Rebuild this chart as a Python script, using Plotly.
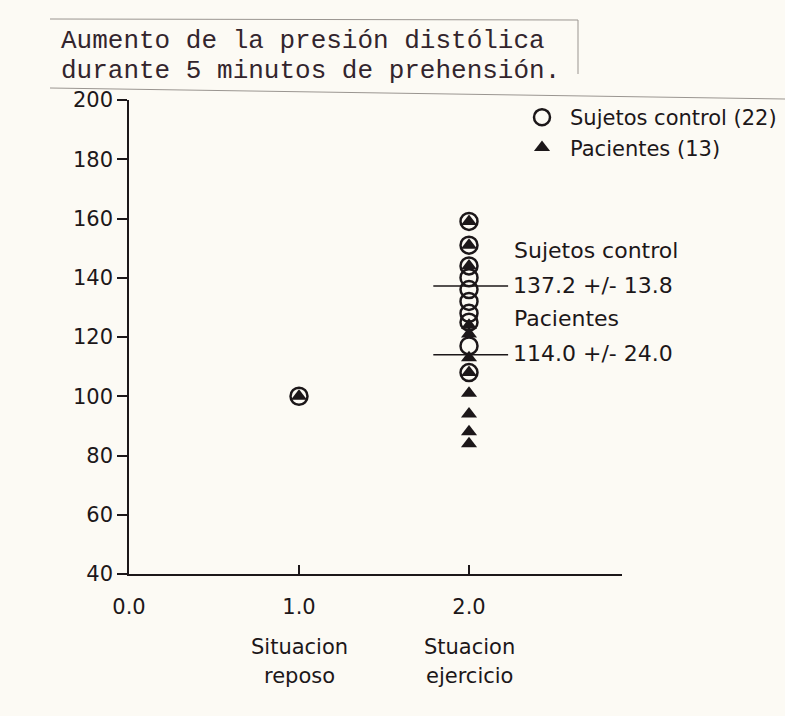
import plotly.graph_objects as go

# ---------------- data ----------------
control_x = [1, 2, 2, 2, 2, 2, 2, 2, 2, 2, 2]
control_y = [100, 159, 151, 144, 140, 136, 132, 128, 125, 117, 108]

patient_x = [1, 2, 2, 2, 2, 2, 2, 2, 2, 2, 2, 2]
patient_y = [100, 159, 151, 144, 124, 121, 113, 108, 101, 94, 88, 84]

mean_labels = ["Sujetos control", "Pacientes"]
mean_values = [137.2, 114.0]
mean_text = ["137.2 +/- 13.8", "114.0 +/- 24.0"]

x_tickvals = [0, 1, 2]
x_ticktext = ["0.0", "1.0", "2.0"]
y_tickvals = [40, 60, 80, 100, 120, 140, 160, 180, 200]

category_x = [1, 2]
category_lines = [["Situacion", "reposo"], ["Stuacion", "ejercicio"]]

title_lines = ["Aumento de la presión distólica",
               "durante 5 minutos de prehensión."]

legend_names = ["Sujetos control (22)", "Pacientes (13)"]

# ---------------- layout helpers ----------------
W, H = 785, 716
ML, MR, MT, MB = 129, 163, 100, 142
INK = "#1c1719"
FONT = "DejaVu Sans"


def py(pix):  # pixel y -> paper y
    return (H - MB - pix) / (H - MT - MB)


def px(pix):  # pixel x -> paper x
    return (pix - ML) / (W - ML - MR)


fig = go.Figure()

fig.add_trace(go.Scatter(
    x=control_x, y=control_y, mode="markers", name=legend_names[0],
    marker=dict(symbol="circle", size=17, color="rgba(0,0,0,0)",
                line=dict(color=INK, width=2.5)),
))
fig.add_trace(go.Scatter(
    x=patient_x, y=patient_y, mode="markers", name=legend_names[1],
    marker=dict(symbol="triangle-up", size=14, color=INK,
                line=dict(color=INK, width=0)),
))

# mean lines and labels
for lab, m, t in zip(mean_labels, mean_values, mean_text):
    fig.add_shape(type="line", xref="x", yref="y", x0=1.79, x1=2.23,
                  y0=m, y1=m, line=dict(color=INK, width=1.5))
    fig.add_annotation(x=2.245, y=m, xref="x", yref="y", text=t,
                       showarrow=False, xanchor="left", yanchor="middle",
                       yshift=1,
                       font=dict(family=FONT, size=22, color=INK))
    fig.add_annotation(x=2.25, y=m, xref="x", yref="y", text=lab,
                       showarrow=False, xanchor="left", yanchor="middle",
                       yshift=36, font=dict(family=FONT, size=22, color=INK))

# category labels under the x axis
for cx, lines in zip(category_x, category_lines):
    for i, ln in enumerate(lines):
        fig.add_annotation(x=cx, y=py(647 + 29 * i), xref="x", yref="paper",
                           text=ln, showarrow=False, xanchor="center",
                           yanchor="middle",
                           font=dict(family=FONT, size=21, color=INK))

# title (pasted paper label)
for i, ln in enumerate(title_lines):
    fig.add_annotation(x=px(60), y=py(41 + 30 * i), xref="paper", yref="paper",
                       text=ln, showarrow=False, xanchor="left",
                       yanchor="middle", borderpad=0,
                       font=dict(family="Liberation Mono", size=26,
                                 color="#33252d"))

strip = "#9a9590"
fig.add_shape(type="line", xref="paper", yref="paper", x0=px(50), x1=px(578),
              y0=py(19), y1=py(20), line=dict(color=strip, width=1))
fig.add_shape(type="line", xref="paper", yref="paper", x0=px(578), x1=px(578),
              y0=py(20), y1=py(74), line=dict(color=strip, width=1))
fig.add_shape(type="line", xref="paper", yref="paper", x0=px(50), x1=px(785),
              y0=py(88), y1=py(99), line=dict(color=strip, width=1))

fig.update_layout(
    width=W, height=H,
    margin=dict(l=ML, r=MR, t=MT, b=MB, autoexpand=False),
    paper_bgcolor="#fcfaf4", plot_bgcolor="rgba(0,0,0,0)",
    showlegend=True,
    legend=dict(x=px(514), y=py(97), xanchor="left", yanchor="top",
                bgcolor="rgba(0,0,0,0)", font=dict(family=FONT, size=21,
                                                   color=INK),
                itemwidth=46, tracegroupgap=0),
    font=dict(family=FONT, size=21, color=INK),
    xaxis=dict(range=[0, 2.9], tickvals=x_tickvals, ticktext=x_ticktext,
               showgrid=False, zeroline=False, showline=True,
               linecolor=INK, linewidth=1.6, ticks="inside", ticklen=9,
               tickwidth=1.6, tickcolor=INK, ticklabelstandoff=13,
               automargin=False,
               tickfont=dict(family=FONT, size=21, color=INK)),
    yaxis=dict(range=[40, 200], tickvals=y_tickvals, showgrid=False,
               zeroline=False, showline=True, linecolor=INK, linewidth=1.6,
               ticks="outside", ticklen=10, tickwidth=1.6, tickcolor=INK,
               automargin=False,
               tickfont=dict(family=FONT, size=21, color=INK)),
)

fig.write_html("out.html")
